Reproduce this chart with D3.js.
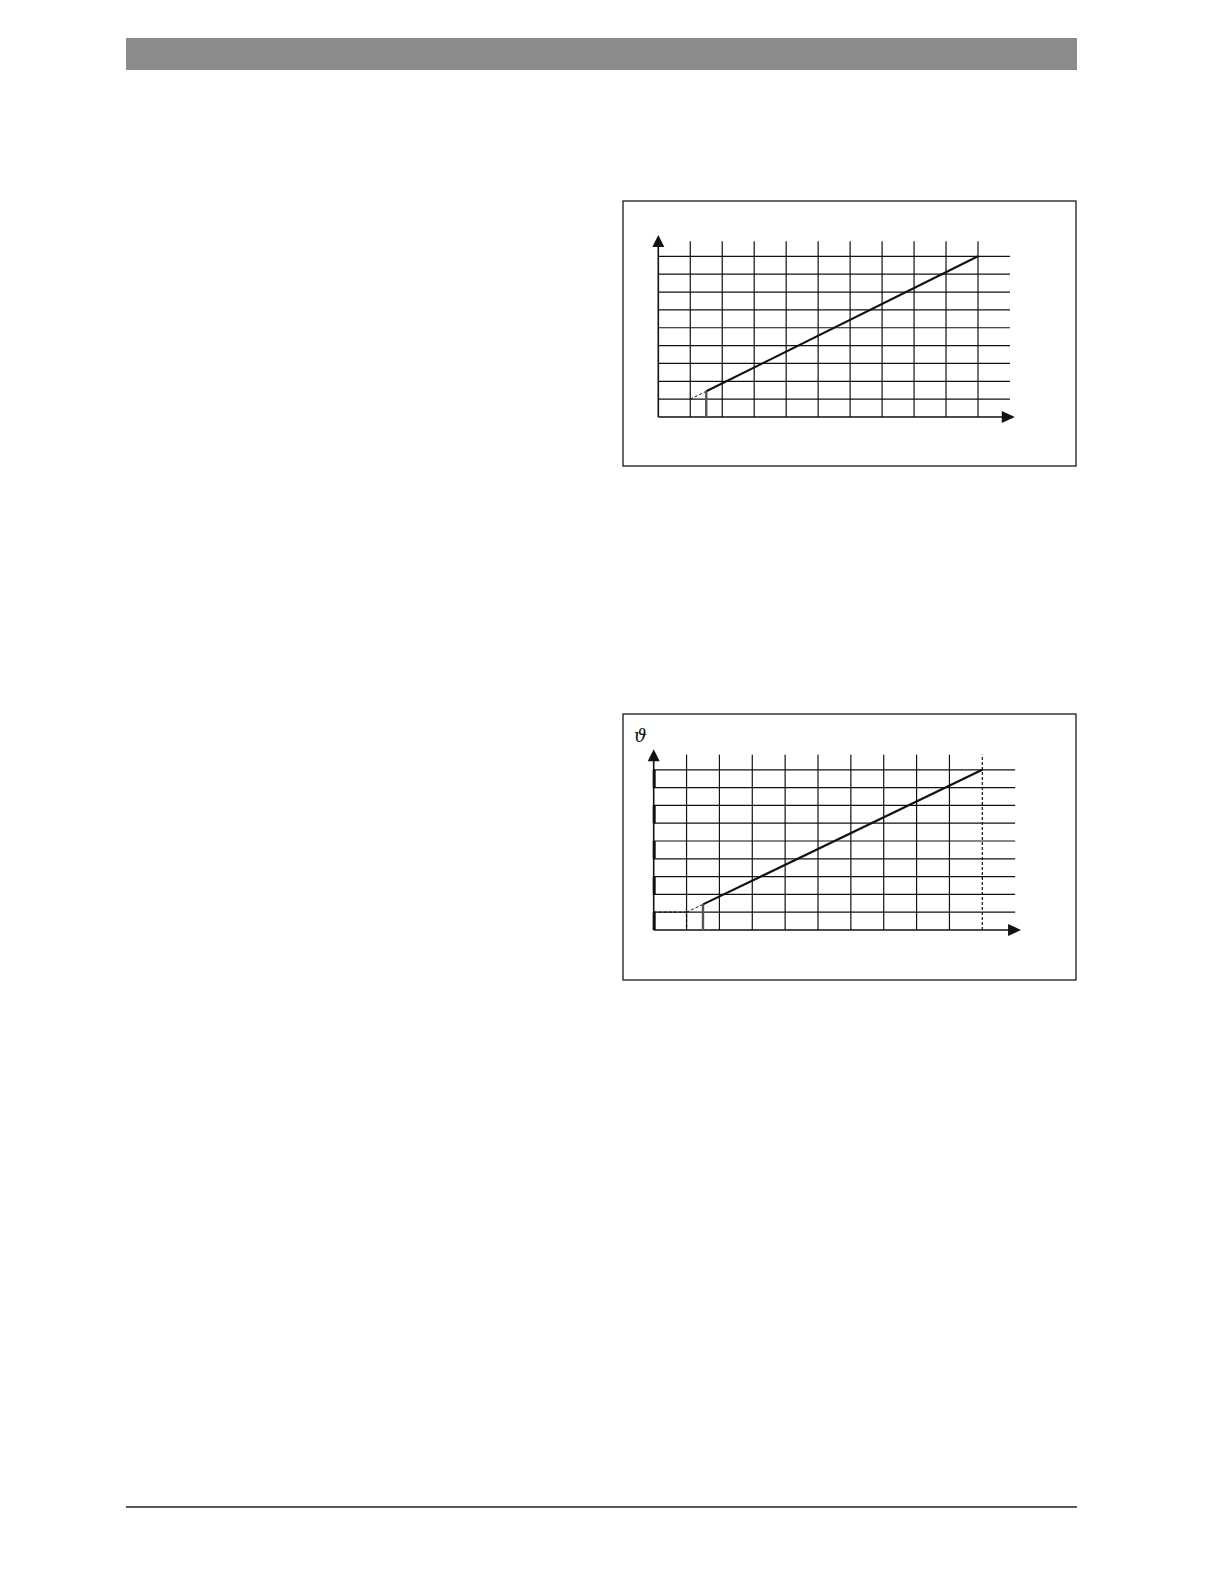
<!DOCTYPE html>
<html>
<head>
<meta charset="utf-8">
<script src="https://cdn.jsdelivr.net/npm/d3@7"></script>
<style>
  body { margin: 0; background: #fff; }
  svg { display: block; }
</style>
</head>
<body>
<svg id="page" width="1224" height="1584"></svg>
<script>
// grid values (both charts share the same grid)
const xGrid = [1, 2, 3, 4, 5, 6, 7, 8, 9, 10];
const yGrid = [1, 2, 3, 4, 5, 6, 7, 8, 9];
// heating curve: dashed from first to second point, solid afterwards
const curveX = [1, 1.5, 10];
const curveY = [1, 1.44, 9];
// second chart extras
const limitX = 10;      // dashed vertical at the end of the curve
const baseY = 1;        // dashed box in the lower left corner
const thickRows = [0, 2, 4, 6, 8]; // heavier y-axis segments

const svg = d3.select("#page");

// page furniture
svg.append("rect").attr("x", 126).attr("y", 38).attr("width", 951).attr("height", 32)
  .attr("fill", "#8a8b8b");
svg.append("line").attr("x1", 126).attr("x2", 1077).attr("y1", 1507).attr("y2", 1507)
  .attr("stroke", "#222").attr("stroke-width", 1.3);

function drawChart(opts) {
  const g = svg.append("g");
  g.append("rect").attr("x", opts.box[0]).attr("y", opts.box[1])
    .attr("width", opts.box[2]).attr("height", opts.box[3])
    .attr("fill", "none").attr("stroke", "#1a1a1a").attr("stroke-width", 1.3);

  const x = d3.scaleLinear().domain([0, 10]).range([opts.ox, opts.ox + 10 * opts.dx]);
  const y = d3.scaleLinear().domain([0, 9]).range([opts.oy, opts.oy - 9 * opts.dy]);

  // horizontal grid
  g.selectAll("line.h").data(yGrid).enter().append("line")
    .attr("x1", x(0)).attr("x2", x(11))
    .attr("y1", (d) => y(d)).attr("y2", (d) => y(d))
    .attr("stroke", "#111").attr("stroke-width", 1.2);

  // vertical grid
  g.selectAll("line.v").data(xGrid).enter().append("line")
    .attr("x1", (d) => x(d)).attr("x2", (d) => x(d))
    .attr("y1", y(0)).attr("y2", y(9.85))
    .attr("stroke", "#111").attr("stroke-width", 1.2)
    .attr("stroke-dasharray", (d) => (opts.limit && d === limitX ? "3,2" : null));

  // axes
  g.append("line").attr("x1", x(0)).attr("x2", x(11.0)).attr("y1", y(0)).attr("y2", y(0))
    .attr("stroke", "#111").attr("stroke-width", 1.6);
  g.append("line").attr("x1", x(0)).attr("x2", x(0)).attr("y1", y(0)).attr("y2", y(9.9))
    .attr("stroke", "#111").attr("stroke-width", 1.6);
  if (opts.thick) {
    g.selectAll("line.t").data(thickRows).enter().append("line")
      .attr("x1", x(0) + 0.5).attr("x2", x(0) + 0.5)
      .attr("y1", (d) => y(d)).attr("y2", (d) => y(d + 1))
      .attr("stroke", "#111").attr("stroke-width", 3);
  }
  // arrow heads
  const xe = x(opts.xArrow), ye = y(0);
  g.append("path").attr("d", `M${xe},${ye} L${xe - 13},${ye - 6} L${xe - 13},${ye + 6} Z`)
    .attr("fill", "#111");
  const ax = x(0), ay = y(opts.yArrow);
  g.append("path").attr("d", `M${ax},${ay} L${ax - 6},${ay + 12} L${ax + 6},${ay + 12} Z`)
    .attr("fill", "#111");

  // dashed lower-left box
  if (opts.limit) {
    g.append("path")
      .attr("d", `M${x(0)},${y(baseY)} L${x(curveX[0])},${y(baseY)} L${x(curveX[0])},${y(0)}`)
      .attr("fill", "none").attr("stroke", "#111").attr("stroke-width", 1.3)
      .attr("stroke-dasharray", "3,2");
  }

  // curve
  const line = d3.line().x((d) => x(d[0])).y((d) => y(d[1]));
  const pts = curveX.map((v, i) => [v, curveY[i]]);
  g.append("path").attr("d", line(pts.slice(0, 2)))
    .attr("fill", "none").attr("stroke", "#111").attr("stroke-width", 1)
    .attr("stroke-dasharray", "3,2");
  g.append("path").attr("d", line(pts.slice(1)))
    .attr("fill", "none").attr("stroke", "#111").attr("stroke-width", 2.2);
  // start marker
  g.append("line").attr("x1", x(curveX[1])).attr("x2", x(curveX[1]))
    .attr("y1", y(0)).attr("y2", y(curveY[1]))
    .attr("stroke", "#555").attr("stroke-width", 2.4);

  if (opts.label) {
    g.append("text").attr("x", opts.label[0]).attr("y", opts.label[1])
      .attr("font-family", "DejaVu Serif").attr("font-style", "italic")
      .attr("font-size", 18).attr("fill", "#111").text("ϑ");
  }
}

drawChart({ box: [623, 201, 453, 265], ox: 658.3, oy: 417, dx: 31.97, dy: 17.85,
  xArrow: 11.15, yArrow: 10.2 });
drawChart({ box: [623, 714, 453, 266], ox: 653.7, oy: 930, dx: 32.86, dy: 17.8,
  xArrow: 11.18, yArrow: 10.15, limit: true, thick: true, label: [634, 742] });
</script>
</body>
</html>
